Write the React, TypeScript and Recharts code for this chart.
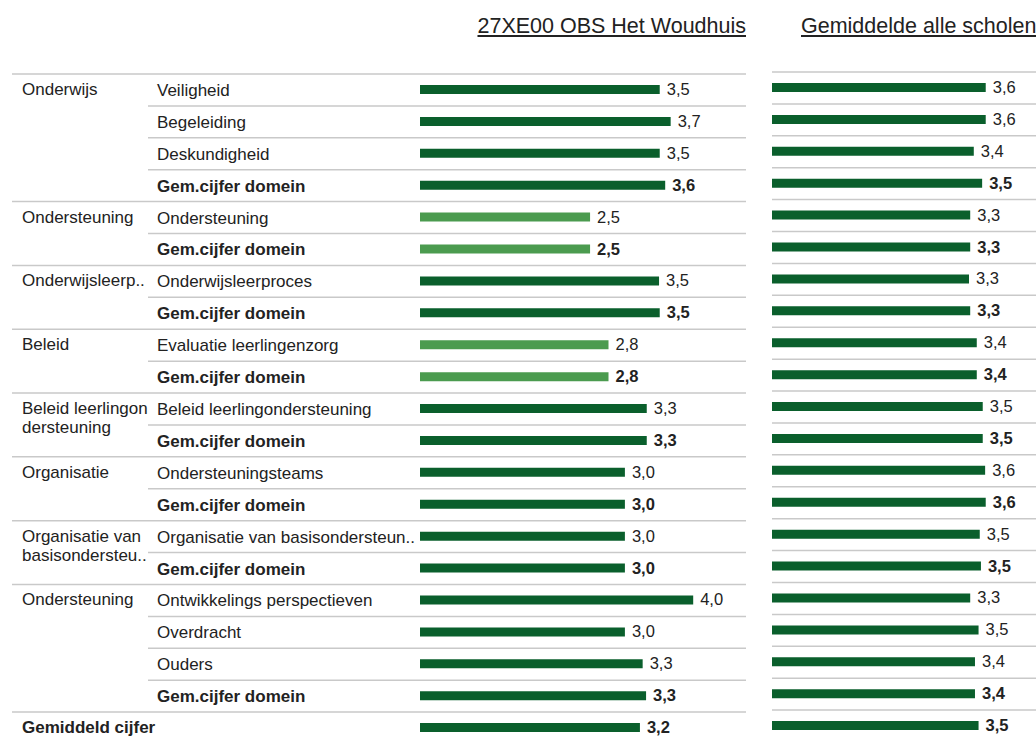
import React from "react";
import { BarChart, Bar, XAxis, YAxis, Cell, LabelList, CartesianGrid } from "recharts";

// one entry per table row
const groups = [
  "Onderwijs", "Onderwijs", "Onderwijs", "Onderwijs",
  "Ondersteuning", "Ondersteuning",
  "Onderwijsleerp..", "Onderwijsleerp..",
  "Beleid", "Beleid",
  "Beleid leerlingon\ndersteuning", "Beleid leerlingon\ndersteuning",
  "Organisatie", "Organisatie",
  "Organisatie van\nbasisondersteu..", "Organisatie van\nbasisondersteu..",
  "Ondersteuning ", "Ondersteuning ", "Ondersteuning ", "Ondersteuning ",
  "Gemiddeld cijfer",
];

const measures = [
  "Veiligheid", "Begeleiding", "Deskundigheid", "Gem.cijfer domein",
  "Ondersteuning", "Gem.cijfer domein",
  "Onderwijsleerproces", "Gem.cijfer domein",
  "Evaluatie leerlingenzorg", "Gem.cijfer domein",
  "Beleid leerlingondersteuning", "Gem.cijfer domein",
  "Ondersteuningsteams", "Gem.cijfer domein",
  "Organisatie van basisondersteun..", "Gem.cijfer domein",
  "Ontwikkelings perspectieven", "Overdracht", "Ouders", "Gem.cijfer domein",
  "",
];

const schoolScores = [
  3.51, 3.67, 3.51, 3.59,
  2.49, 2.49,
  3.5, 3.51,
  2.76, 2.76,
  3.32, 3.32,
  3.0, 3.0,
  3.0, 3.0,
  4.0, 3.0, 3.26, 3.31,
  3.22,
];

const allSchoolScores = [
  3.58, 3.58, 3.38, 3.52,
  3.32, 3.32,
  3.3, 3.32,
  3.43, 3.43,
  3.53, 3.53,
  3.57, 3.58,
  3.48, 3.5,
  3.32, 3.46, 3.4, 3.4,
  3.46,
];

const DARK = "#0a5f2c";
const LIGHT = "#4b9b4f";
const LINE = "#c9c9c9";
const TEXT = "#222222";
const FONT = '"Liberation Sans", Arial, sans-serif';

const CHART_H = 746;
const TOP = 74;
const BOTTOM = 2;
const ROW_H = (CHART_H - TOP - BOTTOM) / measures.length;

const rows = measures.map((m, i) => ({
  key: `r${i}`,
  group: groups[i],
  measure: m,
  school: schoolScores[i],
  all: allSchoolScores[i],
  bold: m === "Gem.cijfer domein" || m === "",
  groupStart: i === 0 || groups[i] !== groups[i - 1],
}));

const rowByKey: Record<string, (typeof rows)[number]> = {};
rows.forEach((r) => (rowByKey[r.key] = r));

const fmt = (v: number) => v.toFixed(1).replace(".", ",");

const RowTick = (props: any) => {
  const { y, payload } = props;
  const row = rowByKey[payload.value];
  if (!row) return null;
  const top = y - ROW_H / 2;
  return (
    <g>
      <line
        x1={row.groupStart ? 12 : 148}
        x2={746}
        y1={top}
        y2={top}
        stroke={LINE}
        strokeWidth={1.5}
      />
      {row.groupStart &&
        row.group.trim().split("\n").map((ln, j) => (
          <text
            key={j}
            x={22}
            y={y + 5 + j * 19}
            fill={TEXT}
            fontSize={17}
            fontFamily={FONT}
            fontWeight={row.measure === "" ? 700 : 400}
          >
            {ln}
          </text>
        ))}
      {row.measure && (
        <text
          x={157}
          y={y + 6}
          fill={TEXT}
          fontSize={17}
          fontFamily={FONT}
          fontWeight={row.bold ? 700 : 400}
        >
          {row.measure}
        </text>
      )}
    </g>
  );
};

const ValueLabel = (props: any) => {
  const { x, y, width, height, value, index } = props;
  const row = rows[index];
  return (
    <text
      x={Number(x) + Number(width) + 7}
      y={Number(y) + Number(height) / 2 + 5.5}
      fill={TEXT}
      fontSize={16.5}
      fontFamily={FONT}
      fontWeight={row && row.bold ? 700 : 400}
    >
      {fmt(Number(value))}
    </text>
  );
};

const titleStyle: React.CSSProperties = {
  position: "absolute",
  top: 14,
  fontSize: 21.5,
  lineHeight: "24px",
  color: TEXT,
  textDecoration: "underline",
  whiteSpace: "nowrap",
};

export default function App() {
  return (
    <div
      style={{
        position: "absolute",
        left: 0,
        top: 0,
        width: 1036,
        height: 738,
        overflow: "hidden",
        background: "#fff",
        fontFamily: FONT,
      }}
    >
      <div style={{ ...titleStyle, right: 1036 - 746 }}>27XE00 OBS Het Woudhuis</div>
      <div style={{ ...titleStyle, left: 801 }}>Gemiddelde alle scholen</div>

      <div style={{ position: "absolute", left: 0, top: 0 }}>
        <BarChart
          width={760}
          height={CHART_H}
          data={rows}
          layout="vertical"
          margin={{ top: TOP, right: 14, bottom: BOTTOM, left: 0 }}
        >
          <XAxis type="number" hide domain={[0, 326 / 68.3]} allowDataOverflow />
          <YAxis
            type="category"
            dataKey="key"
            width={420}
            axisLine={false}
            tickLine={false}
            tick={<RowTick />}
            interval={0}
          />
          <Bar dataKey="school" barSize={9} isAnimationActive={false}>
            {rows.map((r) => (
              <Cell key={r.key} fill={r.school < 3 ? LIGHT : DARK} />
            ))}
            <LabelList dataKey="school" content={<ValueLabel />} />
          </Bar>
        </BarChart>
      </div>

      <div style={{ position: "absolute", left: 772, top: -2 }}>
        <BarChart
          width={280}
          height={CHART_H}
          data={rows}
          layout="vertical"
          margin={{ top: TOP, right: 0, bottom: BOTTOM, left: 0 }}
        >
          <CartesianGrid
            vertical={false}
            stroke={LINE}
            strokeWidth={1.5}
            horizontalCoordinatesGenerator={({ offset }: any) =>
              rows.map((_, i) => offset.top + i * (offset.height / rows.length))
            }
          />
          <XAxis type="number" hide domain={[0, 280 / 59.7]} allowDataOverflow />
          <YAxis type="category" dataKey="key" hide />
          <Bar dataKey="all" barSize={9} fill={DARK} isAnimationActive={false}>
            <LabelList dataKey="all" content={<ValueLabel />} />
          </Bar>
        </BarChart>
      </div>
    </div>
  );
}
